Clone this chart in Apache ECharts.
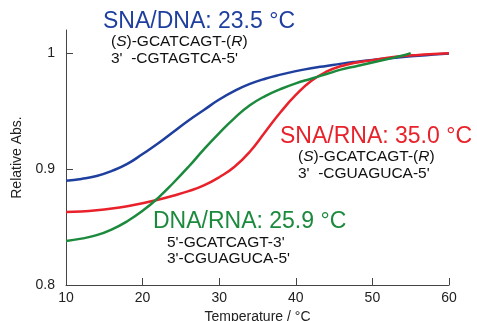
<!DOCTYPE html>
<html lang="en">
<head>
    <meta charset="UTF-8">
    <title>Melting curves</title>
    <script src="https://cdn.jsdelivr.net/npm/echarts@6/dist/echarts.min.js"></script>
    <style>
        body { margin: 0; padding: 0; background: #fff; }
        #chart { width: 477px; height: 321px; }
    </style>
</head>
<body>
    <div id="chart"></div>
    <script>
        // data
        var temps = [10, 12, 14, 16, 18, 20, 22, 24, 26, 28, 30, 32, 34, 36, 38, 40, 42, 44, 46, 48, 50, 52, 54, 56, 58, 60];
        var snaDna = [0.890, 0.8915, 0.894, 0.8985, 0.9045, 0.913, 0.922, 0.932, 0.942, 0.951, 0.960, 0.9675, 0.9735, 0.978, 0.9815, 0.9845, 0.987, 0.989, 0.991, 0.9927, 0.9942, 0.9955, 0.9967, 0.9978, 0.9988, 0.9997];
        var snaRna = [0.863, 0.8635, 0.8645, 0.866, 0.868, 0.8705, 0.8735, 0.877, 0.881, 0.886, 0.893, 0.902, 0.915, 0.932, 0.949, 0.964, 0.976, 0.984, 0.989, 0.992, 0.994, 0.996, 0.9975, 0.9985, 0.9993, 1.0];
        var dnaRnaTemps = [10, 12, 14, 16, 18, 20, 22, 24, 26, 28, 30, 32, 34, 36, 38, 40, 42, 44, 46, 48, 50, 52, 54, 55];
        var dnaRna = [0.838, 0.840, 0.843, 0.848, 0.855, 0.864, 0.875, 0.888, 0.902, 0.917, 0.931, 0.944, 0.955, 0.963, 0.969, 0.974, 0.978, 0.982, 0.986, 0.989, 0.992, 0.995, 0.998, 1.0];
        var yTicks = [0.8, 0.9, 1];

        var blue = '#1f3f9f';
        var red = '#e8212a';
        var green = '#1c8a3d';
        var font = '"Liberation Sans", Arial, sans-serif';

        function pairs(xs, ys) {
            return xs.map(function (x, i) { return [x, ys[i]]; });
        }

        function label(x, y, text, size, color) {
            return {
                type: 'text', left: x, top: y,
                style: {
                    text: text, fontSize: size, fontFamily: font, fill: color,
                    rich: { i: { fontStyle: 'italic', fontSize: size, fontFamily: font, fill: color } }
                }
            };
        }

        var chart = echarts.init(document.getElementById('chart'));
        chart.setOption({
            animation: false,
            grid: { left: 66, right: 28, top: 30, bottom: 36, outerBoundsMode: 'none', containLabel: false },
            xAxis: {
                type: 'value', min: 10, max: 60, interval: 10,
                name: 'Temperature / °C', nameLocation: 'middle', nameGap: 19,
                nameTextStyle: { color: '#222', fontSize: 14, fontFamily: font },
                axisLine: { lineStyle: { color: '#444', width: 1 } },
                axisTick: { inside: true, length: 7, lineStyle: { color: '#444' } },
                axisLabel: { color: '#222', fontSize: 14, fontFamily: font, margin: 6 },
                splitLine: { show: false }
            },
            yAxis: {
                type: 'value', min: 0.8, max: 1.02, interval: 0.1,
                name: 'Relative Abs.', nameLocation: 'middle', nameGap: 36,
                nameTextStyle: { color: '#222', fontSize: 14, fontFamily: font },
                axisLine: { show: true, lineStyle: { color: '#444', width: 1 } },
                axisTick: { show: true, inside: true, length: 7, customValues: yTicks, lineStyle: { color: '#444' } },
                axisLabel: { color: '#222', fontSize: 14, fontFamily: font, margin: 11, customValues: yTicks },
                splitLine: { show: false }
            },
            series: [
                { type: 'line', smooth: true, showSymbol: false, data: pairs(temps, snaDna), lineStyle: { color: blue, width: 2.5 } },
                { type: 'line', smooth: true, showSymbol: false, data: pairs(temps, snaRna), lineStyle: { color: red, width: 2.5 } },
                { type: 'line', smooth: true, showSymbol: false, data: pairs(dnaRnaTemps, dnaRna), lineStyle: { color: green, width: 2.5 } }
            ],
            graphic: [
                label(103, 10, 'SNA/DNA: 23.5 °C', 23, blue),
                label(111, 34, '({i|S})-GCATCAGT-({i|R})', 15.5, '#111'),
                label(111, 51, "3'  -CGTAGTCA-5'", 15.5, '#111'),
                label(280, 125, 'SNA/RNA: 35.0 °C', 23, red),
                label(298, 149, '({i|S})-GCATCAGT-({i|R})', 15.5, '#111'),
                label(298, 166, "3'  -CGUAGUCA-5'", 15.5, '#111'),
                label(153, 210, 'DNA/RNA: 25.9 °C', 23, green),
                label(167, 235, "5'-GCATCAGT-3'", 15.5, '#111'),
                label(167, 251, "3'-CGUAGUCA-5'", 15.5, '#111')
            ]
        });
    </script>
</body>
</html>
